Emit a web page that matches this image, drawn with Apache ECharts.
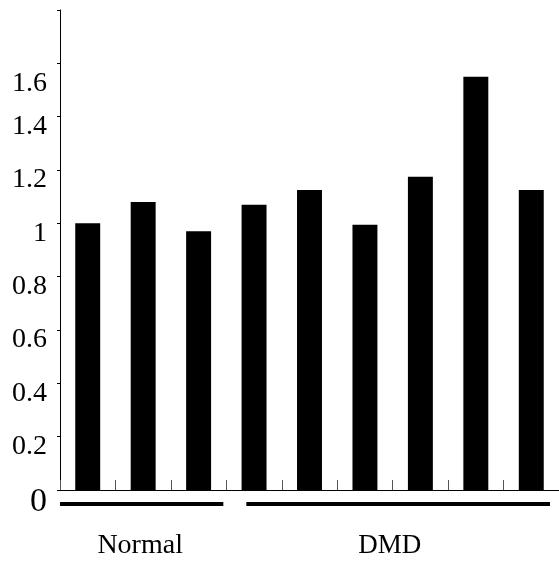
<!DOCTYPE html>
<html>
<head>
<meta charset="utf-8">
<script src="https://cdn.jsdelivr.net/npm/echarts@6/dist/echarts.min.js"></script>
<style>html,body{margin:0;padding:0;background:#fff;}#c{width:559px;height:561px;}</style>
</head>
<body>
<div id="c"></div>
<script>
var categories = ['N1','N2','N3','D1','D2','D3','D4','D5','D6'];
var values = [1.0, 1.08, 0.97, 1.07, 1.125, 0.995, 1.175, 1.55, 1.125];
var groupNames = ['Normal', 'DMD'];
var groupSizes = [3, 6];
var yTicks = [0, 0.2, 0.4, 0.6, 0.8, 1, 1.2, 1.4, 1.6, 1.8];

var FONT = 'Liberation Serif';
var chart = echarts.init(document.getElementById('c'));
chart.setOption({
  animation: false,
  backgroundColor: '#fff',
  grid: { left: 60, right: 0, top: 10, bottom: 71, containLabel: false },
  xAxis: {
    type: 'category',
    data: categories,
    axisLine: { lineStyle: { color: '#000', width: 1 } },
    axisTick: { show: true, inside: true, length: 10, interval: 0, lineStyle: { color: '#555' } },
    axisLabel: { show: false },
    splitLine: { show: false }
  },
  yAxis: {
    type: 'value',
    min: 0,
    max: yTicks[yTicks.length - 1],
    interval: 0.2,
    axisLine: { show: true, lineStyle: { color: '#000', width: 1 } },
    axisTick: { show: true, length: 3, lineStyle: { color: '#000' } },
    splitLine: { show: false },
    axisLabel: {
      margin: 13,
      verticalAlign: 'middle',
      formatter: function (v) {
        var r = Math.round(v * 10) / 10;
        if (r === 1.8) return '';
        if (r === 0) return '{z|0}';
        if (r === 1.6) return '{b|' + r + '}';
        return '{a|' + r + '}';
      },
      rich: {
        a: { fontFamily: FONT, fontSize: 28, color: '#000', padding: [20, 0, 0, 0] },
        b: { fontFamily: FONT, fontSize: 28, color: '#000', padding: [40, 0, 0, 0] },
        z: { fontFamily: FONT, fontSize: 34, color: '#000', padding: [24, 0, 0, 0] }
      }
    }
  },
  series: [{
    type: 'bar',
    data: values,
    barWidth: '45%',
    itemStyle: { color: '#000' }
  }]
});

// group brackets under the axis, positioned from the category scale
var bandW = chart.convertToPixel({ xAxisIndex: 0 }, categories[1]) - chart.convertToPixel({ xAxisIndex: 0 }, categories[0]);
var y0 = chart.convertToPixel({ yAxisIndex: 0 }, 0);
var elems = [];
var start = 0;
var insetL = [0, 20], insetR = [3, 9];
for (var g = 0; g < groupNames.length; g++) {
  var first = chart.convertToPixel({ xAxisIndex: 0 }, categories[start]) - bandW / 2;
  var last = chart.convertToPixel({ xAxisIndex: 0 }, categories[start + groupSizes[g] - 1]) + bandW / 2;
  elems.push({
    type: 'line',
    shape: { x1: first + insetL[g], y1: y0 + 14, x2: last - insetR[g], y2: y0 + 14 },
    style: { stroke: '#000', lineWidth: 4 }
  });
  elems.push({
    type: 'text',
    x: (first + last) / 2 - 3,
    y: y0 + 56,
    style: { text: groupNames[g], fontFamily: FONT, fontSize: g === 0 ? 28 : 27, fill: '#000', align: 'center', verticalAlign: 'middle' }
  });
  start += groupSizes[g];
}
chart.setOption({ graphic: elems });
</script>
</body>
</html>
